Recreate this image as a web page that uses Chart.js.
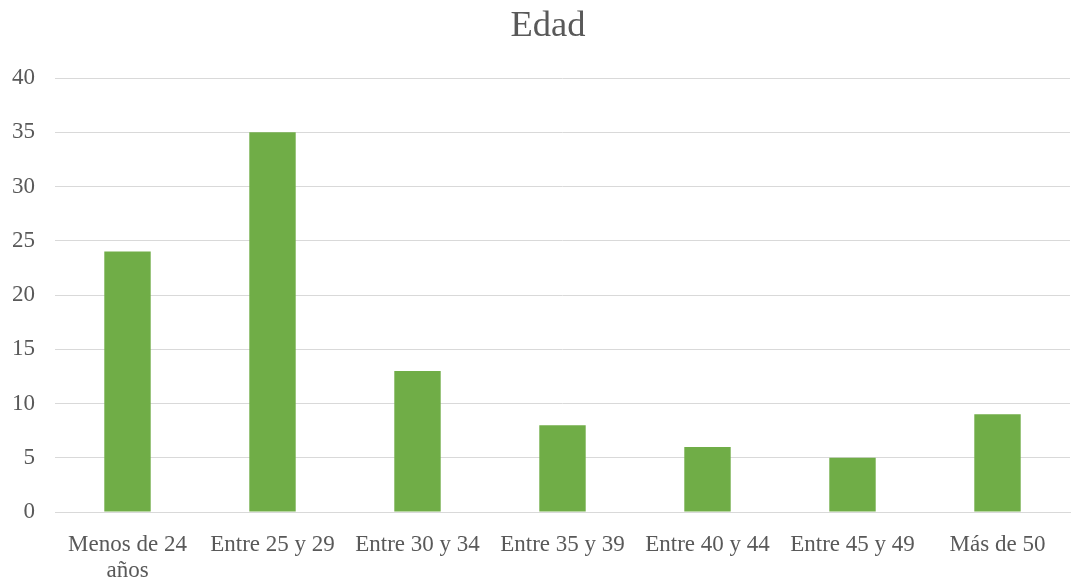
<!DOCTYPE html>
<html>
<head>
<meta charset="utf-8">
<script src="https://cdn.jsdelivr.net/npm/chart.js@4"></script>
<style>
  html, body { margin: 0; padding: 0; background: #fff; }
  #wrap { width: 1072px; height: 578px; }
</style>
</head>
<body>
<div id="wrap"><canvas id="barChart" width="1072" height="578"></canvas></div>
<script>
var titleText = "Edad";
var labels = [["Menos de 24", "años"], "Entre 25 y 29", "Entre 30 y 34", "Entre 35 y 39", "Entre 40 y 44", "Entre 45 y 49", "Más de 50"];
var values = [24, 35, 13, 8, 6, 5, 9];
var yTicks = [0, 5, 10, 15, 20, 25, 30, 35, 40];

var serif = "'Liberation Serif', 'Times New Roman', serif";

// the original title sits a little right of the canvas centre, so draw it ourselves
var titlePlugin = {
    id: "titleAt",
    afterDraw: function (chart) {
        var ctx = chart.ctx;
        ctx.save();
        ctx.font = "36.5px " + serif;
        ctx.fillStyle = "#595959";
        ctx.textAlign = "center";
        ctx.textBaseline = "middle";
        ctx.fillText(titleText, (chart.width + 24) / 2, 26);
        ctx.restore();
    }
};

var data = {
    labels: labels,
    datasets: [{
        label: titleText,
        backgroundColor: "#70ad47",
        data: values,
        categoryPercentage: 1,
        barPercentage: 0.32
    }]
};

var config = {
    type: "bar",
    data,
    plugins: [titlePlugin],
    options: {
        responsive: false,
        animation: false,
        layout: { padding: { left: 0, right: 2, top: 78, bottom: 0 } },
        plugins: {
            legend: { display: false },
            tooltip: { enabled: false },
            title: { display: false }
        },
        scales: {
            x: {
                afterFit: function (s) { s.height = 66; },
                grid: { display: false },
                border: { display: true, color: "#d9d9d9", width: 1 },
                ticks: {
                    color: "#595959",
                    font: { family: serif, size: 23, lineHeight: 1.13 },
                    padding: 12,
                    maxRotation: 0,
                    autoSkip: false
                }
            },
            y: {
                min: 0,
                max: yTicks[yTicks.length - 1],
                afterBuildTicks: function (s) { s.ticks = yTicks.map(function (v) { return { value: v }; }); },
                afterFit: function (s) { s.width = 55; },
                grid: { color: "#d9d9d9", lineWidth: 1, drawTicks: false },
                border: { display: false },
                ticks: {
                    color: "#595959",
                    font: { family: serif, size: 23 },
                    padding: 20
                }
            }
        }
    }
};

var barChart = new Chart(document.getElementById("barChart"), config);
</script>
</body>
</html>
